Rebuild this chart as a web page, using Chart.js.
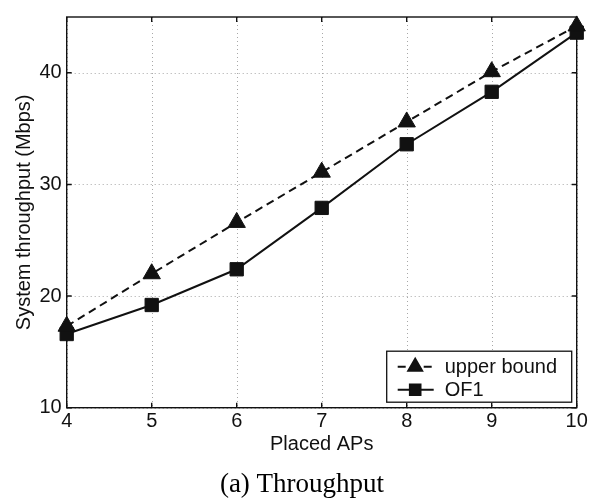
<!DOCTYPE html>
<html>
<head>
<meta charset="utf-8">
<script src="https://cdn.jsdelivr.net/npm/chart.js@4.4.1/dist/chart.umd.min.js"></script>
<style>
	html, body { margin: 0; padding: 0; background: #fff; }
	#wrap { width: 610px; height: 500px; }
</style>
</head>
<body>
<div id="wrap"><canvas id="myChart" width="610" height="500"></canvas></div>
<script>
var placedAPs = [4, 5, 6, 7, 8, 9, 10];
var upperBound = [17.3, 22.0, 26.6, 31.1, 35.6, 40.1, 44.2];
var of1 = [16.6, 19.2, 22.4, 27.9, 33.6, 38.3, 43.6];
var xTicks = [4, 5, 6, 7, 8, 9, 10];
var yTicks = [10, 20, 30, 40];
var seriesNames = ['upper bound', 'OF1'];
var xTitle = 'Placed APs';
var yTitle = 'System throughput (Mbps)';
var caption = '(a) Throughput';

var sansFont = '"Liberation Sans", Arial, sans-serif';
var ink = '#111';

// dotted grid, box frame and inward ticks like the matlab axes
var framePlugin = {
	id: 'frame',
	beforeDatasetsDraw: function (chart) {
		var ctx = chart.ctx, a = chart.chartArea;
		var xs = chart.scales.x, ys = chart.scales.y;
		ctx.save();
		ctx.strokeStyle = '#a8a8a8';
		ctx.lineWidth = 1;
		ctx.setLineDash([1, 3]);
		xTicks.forEach(function (v) {
			var px = Math.round(xs.getPixelForValue(v)) + 0.5;
			ctx.beginPath();
			ctx.moveTo(px, a.top);
			ctx.lineTo(px, a.bottom);
			ctx.stroke();
		});
		yTicks.forEach(function (v) {
			var py = Math.round(ys.getPixelForValue(v)) + 0.5;
			ctx.beginPath();
			ctx.moveTo(a.left, py);
			ctx.lineTo(a.right, py);
			ctx.stroke();
		});
		ctx.setLineDash([]);
		ctx.strokeStyle = ink;
		ctx.lineWidth = 1.4;
		ctx.strokeRect(a.left, a.top, a.right - a.left, a.bottom - a.top);
		var tl = 5;
		ctx.beginPath();
		xTicks.forEach(function (v) {
			var px = xs.getPixelForValue(v);
			ctx.moveTo(px, a.bottom); ctx.lineTo(px, a.bottom - tl);
			ctx.moveTo(px, a.top); ctx.lineTo(px, a.top + tl);
		});
		yTicks.forEach(function (v) {
			var py = ys.getPixelForValue(v);
			ctx.moveTo(a.left, py); ctx.lineTo(a.left + tl, py);
			ctx.moveTo(a.right, py); ctx.lineTo(a.right - tl, py);
		});
		ctx.stroke();
		ctx.restore();
	}
};

// legend box with line + marker samples, and the caption under the figure
var legendPlugin = {
	id: 'boxLegend',
	afterDraw: function (chart) {
		var ctx = chart.ctx, a = chart.chartArea;
		var w = 185, h = 51;
		var left = a.right - 5 - w, top = a.bottom - 5.5 - h;
		ctx.save();
		ctx.fillStyle = '#fff';
		ctx.fillRect(left, top, w, h);
		ctx.strokeStyle = ink;
		ctx.lineWidth = 1.3;
		ctx.strokeRect(left, top, w, h);

		chart.data.datasets.forEach(function (ds, i) {
			var y = top + 15.5 + i * 23;
			ctx.save();
			ctx.strokeStyle = ds.borderColor;
			ctx.lineWidth = ds.borderWidth;
			ctx.setLineDash(ds.borderDash || []);
			ctx.beginPath();
			ctx.moveTo(left + 11, y);
			ctx.lineTo(left + 47, y);
			ctx.stroke();
			ctx.setLineDash([]);
			ctx.fillStyle = ds.pointBackgroundColor;
			Chart.helpers.drawPoint(ctx, {
				pointStyle: ds.pointStyle,
				radius: ds.pointStyle === 'triangle' ? 8 : 7.5,
				borderWidth: 1,
				rotation: 0
			}, left + 28.5, y);
			ctx.restore();

			ctx.fillStyle = ink;
			ctx.font = '20px ' + sansFont;
			ctx.textAlign = 'left';
			ctx.textBaseline = 'middle';
			ctx.fillText(ds.label, left + 58, y + 1);
		});

		ctx.fillStyle = '#000';
		ctx.font = '27px "Liberation Serif", "Times New Roman", serif';
		ctx.textAlign = 'center';
		ctx.textBaseline = 'alphabetic';
		ctx.fillText(caption, 302, 492);
		ctx.restore();
	}
};

var ctx = document.getElementById('myChart');
var myChart = new Chart(ctx, {
	type: 'line',
	data: {
		datasets: [
			{
				label: seriesNames[0],
				data: placedAPs.map(function (x, i) { return { x: x, y: upperBound[i] }; }),
				borderColor: ink,
				borderWidth: 2,
				borderDash: [8, 5],
				pointStyle: 'triangle',
				pointRadius: 10,
				pointBackgroundColor: ink,
				pointBorderColor: ink,
				pointBorderWidth: 1,
				tension: 0,
				fill: false,
				clip: false
			},
			{
				label: seriesNames[1],
				data: placedAPs.map(function (x, i) { return { x: x, y: of1[i] }; }),
				borderColor: ink,
				borderWidth: 2,
				pointStyle: 'rect',
				pointRadius: 9.4,
				pointBackgroundColor: ink,
				pointBorderColor: ink,
				pointBorderWidth: 1,
				tension: 0,
				fill: false,
				clip: false
			}
		]
	},
	options: {
		responsive: false,
		animation: false,
		layout: { padding: { left: 0, right: 33.3, top: 5.3, bottom: 0 } },
		plugins: {
			legend: { display: false },
			tooltip: { enabled: false }
		},
		scales: {
			x: {
				type: 'linear',
				min: 4,
				max: 10,
				afterBuildTicks: function (s) { s.ticks = xTicks.map(function (v) { return { value: v }; }); },
				afterFit: function (s) { s.height = 92.3; },
				grid: { display: false, drawTicks: false },
				border: { display: false },
				ticks: { color: ink, font: { family: sansFont, size: 20 }, padding: 2, maxRotation: 0 },
				title: {
					display: true,
					text: xTitle,
					color: ink,
					font: { family: sansFont, size: 20 },
					padding: { top: 0, bottom: 44 }
				}
			},
			y: {
				type: 'linear',
				min: 10,
				max: 45,
				afterBuildTicks: function (s) { s.ticks = yTicks.map(function (v) { return { value: v }; }); },
				afterFit: function (s) { s.width = 66.7; },
				grid: { display: false, drawTicks: false },
				border: { display: false },
				ticks: { color: ink, font: { family: sansFont, size: 20 }, padding: 5 },
				title: {
					display: true,
					text: yTitle,
					color: ink,
					font: { family: sansFont, size: 20 },
					padding: { top: 12, bottom: 0 }
				}
			}
		}
	},
	plugins: [framePlugin, legendPlugin]
});
</script>
</body>
</html>
